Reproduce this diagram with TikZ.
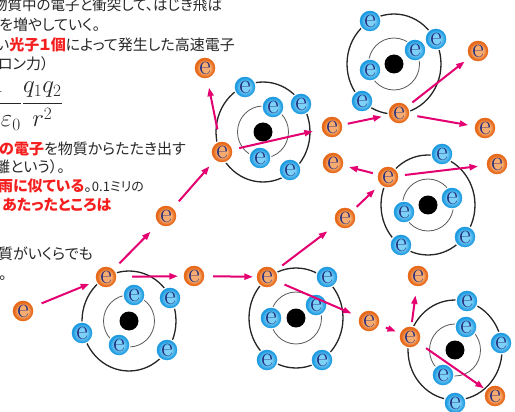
\documentclass[tikz,border=0pt]{standalone}
\usepackage[no-math]{fontspec}
\newfontfamily\jpfont{Noto Sans CJK JP}[RawFeature=+palt]
\usetikzlibrary{arrows.meta}

\definecolor{eoin}{RGB}{246,172,112}
\definecolor{eoout}{RGB}{230,104,24}
\definecolor{ebin}{RGB}{125,208,246}
\definecolor{ebout}{RGB}{30,155,225}
\definecolor{enavy}{RGB}{35,45,125}
\definecolor{hitpink}{RGB}{228,0,112}
\definecolor{txtgray}{RGB}{40,40,40}
\definecolor{txtred}{RGB}{245,30,30}

\pgfdeclareradialshading{eorange}{\pgfpoint{0bp}{0bp}}{color(0bp)=(eoin); color(12bp)=(eoin); color(20bp)=(eoout); color(50bp)=(eoout)}
\pgfdeclareradialshading{eblue}{\pgfpoint{0bp}{0bp}}{color(0bp)=(ebin); color(10bp)=(ebin); color(21bp)=(ebout); color(50bp)=(ebout)}

\tikzset{
  electron/.style={circle, inner sep=0pt, minimum size=22pt, draw=white, line width=1.2pt,
    text=enavy, font=\fontsize{28}{28}\selectfont},
  eo/.style={electron, shading=eorange},
  eb/.style={electron, shading=eblue},
  nucleus/.style={circle, fill=black, inner sep=0pt, minimum size=19pt},
  outerorbit/.style={draw=black!85, line width=1.3pt},
  innerorbit/.style={draw=black!65, line width=0.8pt},
  hit/.style={draw=hitpink, line width=2pt, -{Triangle[length=8.5pt,width=6pt]}},
  jp/.style={anchor=base west, inner sep=0pt, font=\fontsize{15}{15}\jpfont, text=txtgray},
}
\newcommand\hl[1]{{\bfseries\color{txtred}#1}}
% nucleus with its two electron shells
\newcommand\drawatom[2]{%
  \draw[outerorbit] (#2) ellipse [x radius=47, y radius=50];
  \draw[innerorbit] (#2) ellipse [x radius=25.5, y radius=26];
  \node[nucleus] (#1) at (#2) {};}

\begin{document}
\begin{tikzpicture}[x=1pt, y=-1pt]
\useasboundingbox (0,0) rectangle (515,412);
\clip (0,0) rectangle (515,412);
\fill[white] (0,0) rectangle (515,412);

% explanatory text
\node[jp, font=\fontsize{14.5}{15}\jpfont] (l1) at (-7,10.7) {物質中の電子と衝突して、はじき飛ば};
\node[jp] (l2) at (-1,30.7) {を増やしていく。};
\node[jp] (l3) at (-5,50.2) {い\hl{光子１個}によって発生した高速電子};
\node[jp] (l4) at (-2,69.7) {ロン力）};
\node[anchor=base east, inner sep=0pt, font=\fontsize{24}{28}\selectfont, text=txtgray] (coul) at (63,109.5)
  {$\displaystyle\frac{1}{4\pi\varepsilon_0}\frac{q_1q_2}{r^2}$};
\node[jp] (l6) at (-1,154) {\hl{の電子}を物質からたたき出す};
\node[jp] (l7) at (-5,173) {離という）。};
\node[jp] (l8) at (-2,192) {\hl{雨に似ている}。{\fontsize{13}{13}\selectfont 0.1ミリの}};
\node[jp] (l9) at (2,211) {\hl{あたったところは}};
\node[jp] (l10) at (-2,259) {質がいくらでも};
\node[jp] (l11) at (-1,279) {。};

% atoms
\drawatom{nA}{129,321}
\drawatom{nB}{263,132}
\drawatom{nC}{394,64}
\drawatom{nD}{428,205}
\drawatom{nE}{296,318}
\drawatom{nF}{455,350}

% bound electrons
\node[eb] (a1) at (134,295) {e};
\node[eb] (a2) at (170,298) {e};
\node[eb] (a3) at (82,333) {e};
\node[eb] (a4) at (119,345) {e};
\node[eb] (a5) at (167,350) {e};

\node[eb] (b1) at (245,87) {e};
\node[eb] (b2) at (273,107) {e};
\node[eb] (b3) at (301,104) {e};
\node[eb] (b4) at (260,158) {e};
\node[eb] (b5) at (290,170) {e};

\node[eb] (c1) at (370,21) {e};
\node[eb] (c2) at (436,39) {e};
\node[eb] (c3) at (415,50) {e};
\node[eb] (c4) at (370,70) {e};
\node[eb] (c5) at (362,101) {e};

\node[eb] (d1) at (442,154) {e};
\node[eb] (d2) at (452,198) {e};
\node[eb] (d3) at (404,212) {e};
\node[eb] (d4) at (401,245) {e};
\node[eb] (d5) at (465,237) {e};

\node[eb] (e1) at (327,277) {e};
\node[eb] (e2) at (316,305) {e};
\node[eb] (e3) at (271,318) {e};
\node[eb] (e4) at (267,360) {e};
\node[eb] (e5) at (322,360) {e};

\node[eb] (f1) at (467,301) {e};
\node[eb] (f2) at (466,327) {e};
\node[eb] (f3) at (501,343) {e};
\node[eb] (f4) at (443,375) {e};
\node[eb] (f5) at (455,403) {e};

% free (knocked-out) electrons
\node[eo] (o1) at (23,311) {e};
\node[eo] (o2) at (106,277) {e};
\node[eo] (o3) at (194,276) {e};
\node[eo] (o4) at (166,216) {e};
\node[eo] (o5) at (222,152) {e};
\node[eo] (o6) at (205,68) {e};
\node[eo] (o7) at (332,127) {e};
\node[eo] (o8) at (399,113) {e};
\node[eo] (o9) at (478,51) {e};
\node[eo] (o10) at (485,128) {e};
\node[eo] (o11) at (267,277) {e};
\node[eo] (o12) at (345,218) {e};
\node[eo] (o13) at (388,177) {e};
\node[eo] (o14) at (333,163) {e};
\node[eo] (o15) at (497,164) {e};
\node[eo] (o16) at (369,321) {e};
\node[eo] (o17) at (410,337) {e};
\node[eo] (o18) at (418,276) {e};
\node[eo] (o19) at (495,396) {e};

% collision cascade
\draw[hit, shorten <=8.5pt, shorten >=6.5pt] (o1) -- (o2);
\draw[hit, shorten <=14.5pt, shorten >=4.5pt] (o2) -- (o3);
\draw[hit, shorten <=7.5pt, shorten >=10.5pt] (o2) -- (o4);
\draw[hit, shorten <=8pt, shorten >=7.5pt] (o4) -- (o5);
\draw[hit, shorten <=11.5pt, shorten >=8.5pt] (o5) -- (o6);
\draw[hit, shorten <=6pt, shorten >=8pt] (o5) -- (o7);
\draw[hit, shorten <=4.5pt, shorten >=6pt] (o7) -- (o8);
\draw[hit, shorten <=5.5pt, shorten >=5.5pt] (o8) -- (o9);
\draw[hit, shorten <=7pt, shorten >=5.5pt] (o8) -- (o10);
\draw[hit, shorten <=7.5pt, shorten >=2.5pt] (o3) -- (o11);
\draw[hit, shorten <=7.5pt, shorten >=10.5pt] (o11) -- (o12);
\draw[hit, shorten <=4.5pt, shorten >=6.5pt] (o12) -- (o13);
\draw[hit, shorten <=4pt, shorten >=5pt] (o13) -- (o14);
\draw[hit, shorten <=5.5pt, shorten >=7.5pt] (o13) -- (o15);
\draw[hit, shorten <=7.5pt, shorten >=7.5pt] (o11) -- (o16);
\draw[hit, shorten <=6.5pt, shorten >=3.5pt] (o16) -- (o17);
\draw[hit, shorten <=3.5pt, shorten >=8pt] (o17) -- (o18);
\draw[hit, shorten <=8pt, shorten >=2pt] (o17) -- (o19);
\end{tikzpicture}
\end{document}
